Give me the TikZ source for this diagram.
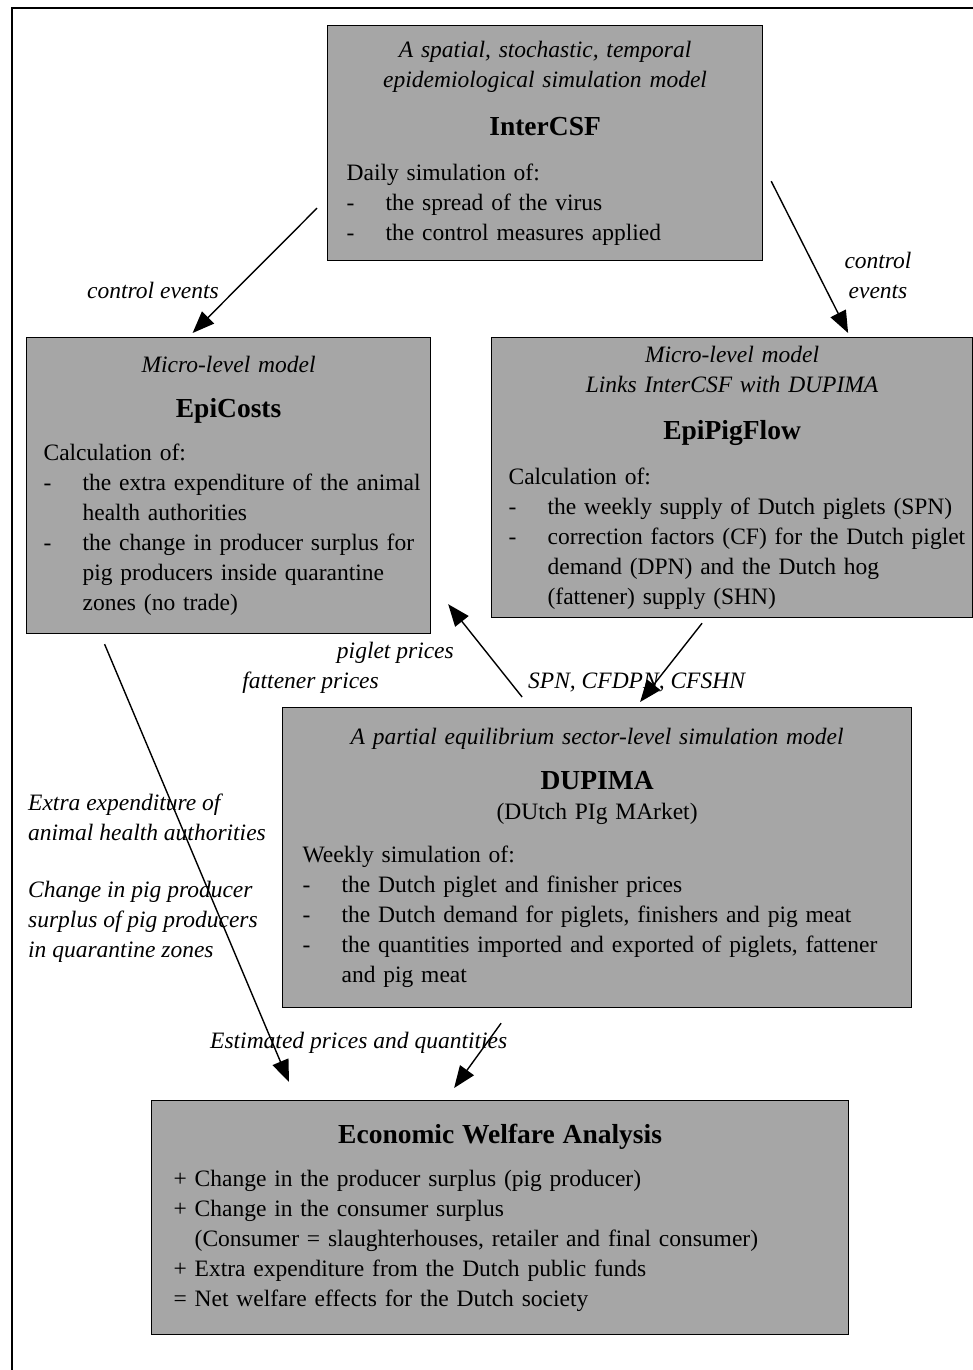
\documentclass[tikz,border=0pt]{standalone}
\usepackage{fontspec}
\setmainfont{Liberation Serif}
\usetikzlibrary{arrows.meta}
\newcommand\dashitem[1]{\par\hangindent=39pt\hangafter=1\noindent\makebox[39pt][l]{-}#1\par}
\newcommand\modeltype[1]{{\centering\itshape #1\par}}
\newcommand\modelname[1]{{\centering\fontsize{27.5}{34}\selectfont\bfseries #1\par}}
\begin{document}
\begin{tikzpicture}[x=1pt, y=-1pt,
  box/.style={draw, line width=1.2pt, fill={rgb,255:red,166;green,166;blue,166}, anchor=north west, inner ysep=0pt, font=\fontsize{23.5}{30}\selectfont},
  lbl/.style={font=\fontsize{23.5}{30}\selectfont\itshape, inner sep=0pt},
  flow/.style={-{Triangle[length=22pt,width=17pt]}, line width=1.4pt}]
\useasboundingbox (0,0) rectangle (973,1370);
\draw [line width=1.5pt] (12,1370) -- (12,8) -- (973,8);
% model boxes
\node [box, text width=397pt, inner xsep=19pt, minimum height=235pt] (intercsf) at (327,25) {\raggedright
  \modeltype{A spatial, stochastic, temporal\\ epidemiological simulation model}\vspace{14pt}
  \modelname{InterCSF}\vspace{15pt}
  Daily simulation of:
  \dashitem{the spread of the virus}
  \dashitem{the control measures applied}};
\node [box, text width=370pt, inner xsep=17pt, minimum height=296pt] (epicosts) at (26,337) {\raggedright
  \modeltype{Micro-level model}\vspace{11pt}
  \modelname{EpiCosts}\vspace{13pt}
  Calculation of:
  \dashitem{\mbox{the extra expenditure of the animal}\newline health authorities}
  \dashitem{\mbox{the change in producer surplus for}\newline \mbox{pig producers inside quarantine}\newline zones (no trade)}};
\node [box, text width=447pt, inner xsep=17pt, minimum height=280pt] (epipigflow) at (491,337) {\raggedright
  \modeltype{Micro-level model\\ Links InterCSF with DUPIMA}\vspace{13pt}
  \modelname{EpiPigFlow}\vspace{15pt}
  Calculation of:
  \dashitem{\mbox{the weekly supply of Dutch piglets (SPN)}}
  \dashitem{\mbox{correction factors (CF) for the Dutch piglet}\newline demand (DPN) and the Dutch hog\newline (fattener) supply (SHN)}};
\node [box, text width=589pt, inner xsep=20pt, minimum height=300pt] (dupima) at (282,707) {\raggedright
  \modeltype{A partial equilibrium sector-level simulation model}\vspace{11pt}
  \modelname{DUPIMA}
  {\centering (DUtch PIg MArket)\par}\vspace{13pt}
  Weekly simulation of:
  \dashitem{the Dutch piglet and finisher prices}
  \dashitem{the Dutch demand for piglets, finishers and pig meat}
  \dashitem{\mbox{the quantities imported and exported of piglets, fattener}\newline and pig meat}};
\node [box, text width=653pt, inner xsep=22pt, minimum height=234pt] (welfare) at (151,1100) {\raggedright
  \modelname{Economic Welfare Analysis}\vspace{13pt}
  + Change in the producer surplus (pig producer)\\
  + Change in the consumer surplus\\
  \phantom{+ }(Consumer = slaughterhouses, retailer and final consumer)\\
  + Extra expenditure from the Dutch public funds\\
  = Net welfare effects for the Dutch society};
% labels
\node [lbl] (ctrlleft) at (153,290) {control events};
\node [lbl, align=center] (ctrlright) at (878,275) {control\\ events};
\node [lbl, anchor=east] (pigletprices) at (454,653) {piglet prices};
\node [lbl, anchor=east] (fattenerprices) at (379,683) {fattener prices};
\node [lbl, anchor=west] (pigflowvars) at (528,683) {SPN, CFDPN, CFSHN};
\node [lbl, anchor=west, align=left] (extraexp) at (28,817) {Extra expenditure of\\ animal health authorities};
\node [lbl, anchor=west, align=left] (surpluschange) at (28,922) {Change in pig producer\\ surplus of pig producers\\ in quarantine zones};
\node [lbl, anchor=west] (estimates) at (210,1043) {Estimated prices and quantities};
% connectors
\draw [flow] ([shift={(-10,-53)}]intercsf.south west) -- ([shift={(-36,-4)}]epicosts.north);
\draw [flow] ([shift={(8,-80)}]intercsf.south east) -- ([shift={(116,-4)}]epipigflow.north);
\draw [flow] ([shift={(-30,5)}]epipigflow.south) -- ([shift={(43,-5)}]dupima.north);
\draw [flow] ([shift={(-75,-10)}]dupima.north) -- ([shift={(17,-30)}]epicosts.south east);
\draw [flow] ([shift={(-124,10)}]epicosts.south) -- ([shift={(138,-18)}]welfare.north west);
\draw [flow] ([shift={(-96,15)}]dupima.south) -- ([shift={(-46,-12)}]welfare.north);
\end{tikzpicture}
\end{document}
